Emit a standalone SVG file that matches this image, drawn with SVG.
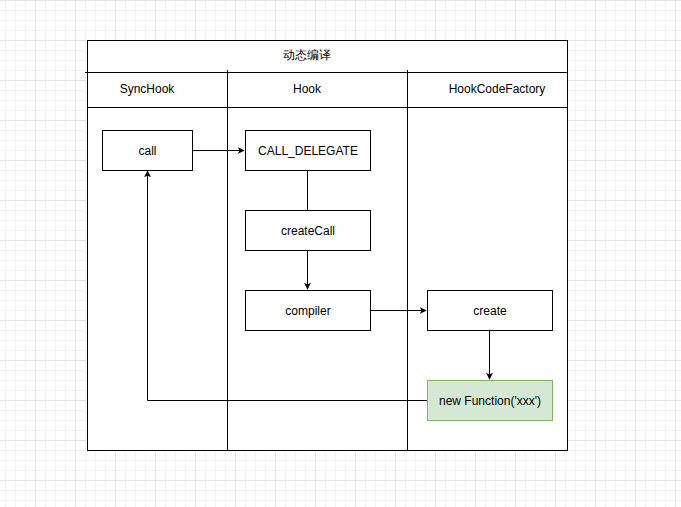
<svg xmlns="http://www.w3.org/2000/svg" width="681" height="507" viewBox="0 0 681 507">
<defs>
<pattern id="minor" width="10" height="10" patternUnits="userSpaceOnUse" x="5" y="0">
<path d="M0 0.5 H10 M0.5 0 V10" fill="none" stroke="#f3f3f3" stroke-width="1"/>
</pattern>
<pattern id="major" width="40" height="40" patternUnits="userSpaceOnUse" x="35" y="0">
<path d="M0 0.5 H40 M0.5 0 V40" fill="none" stroke="#e5e5e5" stroke-width="1"/>
</pattern>
<marker id="arr" viewBox="0 0 10 10" refX="9" refY="5" markerWidth="7" markerHeight="7" orient="auto" markerUnits="userSpaceOnUse">
<path d="M0 0 L10 5 L0 10 L2.5 5 Z" fill="#000"/>
</marker>
</defs>
<style>
text{font-family:"Liberation Sans",Arial,sans-serif;font-size:12px;fill:#000;text-anchor:middle;dominant-baseline:central}
.box{fill:#fff;stroke:#000;stroke-width:1}
.ln{fill:none;stroke:#000;stroke-width:1}
</style>
<rect width="681" height="507" fill="#fff"/>
<rect width="681" height="507" fill="url(#minor)"/>
<rect width="681" height="507" fill="url(#major)"/>
<g id="container">
<rect x="87.5" y="40.5" width="480" height="410" class="box"/>
<text x="307" y="55" font-family="'Liberation Sans','Noto Sans CJK SC',sans-serif">动态编译</text>
<path class="ln" d="M85 72.5 H568 M87 107.5 H568 M227.5 70 V450 M407.5 70 V450"/>
<text x="147" y="89">SyncHook</text>
<text x="307" y="89">Hook</text>
<text x="497" y="89">HookCodeFactory</text>
</g>
<g id="connectors">
<path class="ln" d="M192.5 150.5 H244" marker-end="url(#arr)"/>
<path class="ln" d="M307.5 170.5 V210"/>
<path class="ln" d="M307.5 250.5 V289" marker-end="url(#arr)"/>
<path class="ln" d="M370.5 310.5 H426" marker-end="url(#arr)"/>
<path class="ln" d="M489.5 330.5 V379" marker-end="url(#arr)" stroke="#333"/>
<path class="ln" d="M427 400.5 H147.5 V171" marker-end="url(#arr)"/>
</g>
<g id="call"><rect x="102.5" y="130.5" width="90" height="40" class="box"/><text x="147.5" y="150.5">call</text></g>
<g id="call_delegate"><rect x="245.5" y="130.5" width="125" height="40" class="box"/><text x="308" y="150.5">CALL_DELEGATE</text></g>
<g id="createCall"><rect x="245.5" y="210.5" width="125" height="40" class="box"/><text x="308" y="230.5">createCall</text></g>
<g id="compiler"><rect x="245.5" y="290.5" width="125" height="40" class="box"/><text x="308" y="310.5">compiler</text></g>
<g id="create"><rect x="427.5" y="290.5" width="125" height="40" class="box"/><text x="490" y="310.5">create</text></g>
<g id="newFunction"><rect x="427.5" y="380.5" width="125" height="40" fill="#d5e8d4" stroke="#82b366"/><text x="490" y="400.5">new Function('xxx')</text></g>
</svg>
